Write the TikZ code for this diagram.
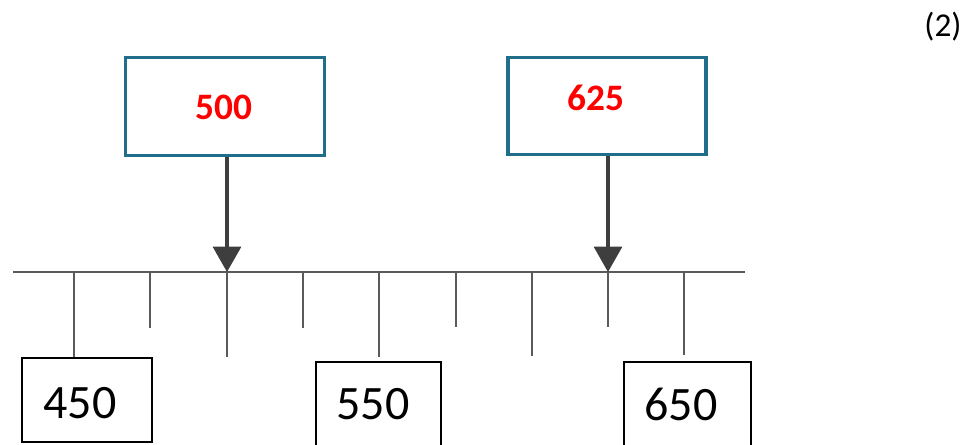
\documentclass[tikz,border=0pt]{standalone}
\usepackage{fontspec}
\setmainfont{Carlito}
\usetikzlibrary{arrows.meta}
\definecolor{teal1}{RGB}{32,110,138}
\definecolor{arrowgray}{RGB}{62,62,62}
\definecolor{linegray}{RGB}{90,90,90}
\begin{document}
\begin{tikzpicture}[x=0.75pt,y=-0.75pt,
  topbox/.style={draw=teal1,line width=2.4pt,fill=white,minimum width=149.5pt,minimum height=73pt,inner sep=0pt},
  valbox/.style={draw=black,line width=1.3pt,inner sep=0pt},
  valtxt/.style={font=\fontsize{36}{40}\selectfont},
  redtxt/.style={text=red,font=\bfseries\fontsize{28}{32}\selectfont},
  pointer/.style={draw=arrowgray,line width=2.3pt,-{Triangle[width=21pt,length=19pt]}},
  tickline/.style={draw=linegray,line width=1.5pt}]
\useasboundingbox (0,0) rectangle (977,445);
% number line
\coordinate (L) at (13,272);
\coordinate (R) at (745,272);
\draw[draw=linegray,line width=2.2pt] (L) -- (R);
% ticks
\foreach \x/\e in {74/357,150/328,227/357,303/328,379/357,456/327,532/356,608/327,684/355}{
  \draw[tickline] (\x,272) -- (\x,\e);
}
% top boxes
\node[topbox] (b500) at (225,106.5) {};
\node[redtxt] (t500) at (224,107) {500};
\node[topbox,minimum width=148.5pt] (b625) at (607,106) {};
\node[redtxt] (t625) at (596,98) {625};
\coordinate (p500) at (227,272);
\coordinate (p625) at (608,272);
\draw[pointer] (b500.south -| p500) -- (p500);
\draw[pointer] (b625.south -| p625) -- (p625);
% bottom boxes
\node[valbox,minimum width=97.5pt,minimum height=63pt] (v450) at (87,400) {};
\node[valtxt] (t450) at (80,403) {450};
\node[valbox,minimum width=94pt,minimum height=64pt] (v550) at (378.5,404.5) {};
\node[valtxt] (t550) at (373,404) {550};
\node[valbox,minimum width=95pt,minimum height=64pt] (v650) at (687.5,405) {};
\node[valtxt] (t650) at (681,404) {650};
% mark
\node[font=\fontsize{25}{28}\selectfont] (mark) at (943,27) {(2)};
\end{tikzpicture}
\end{document}
